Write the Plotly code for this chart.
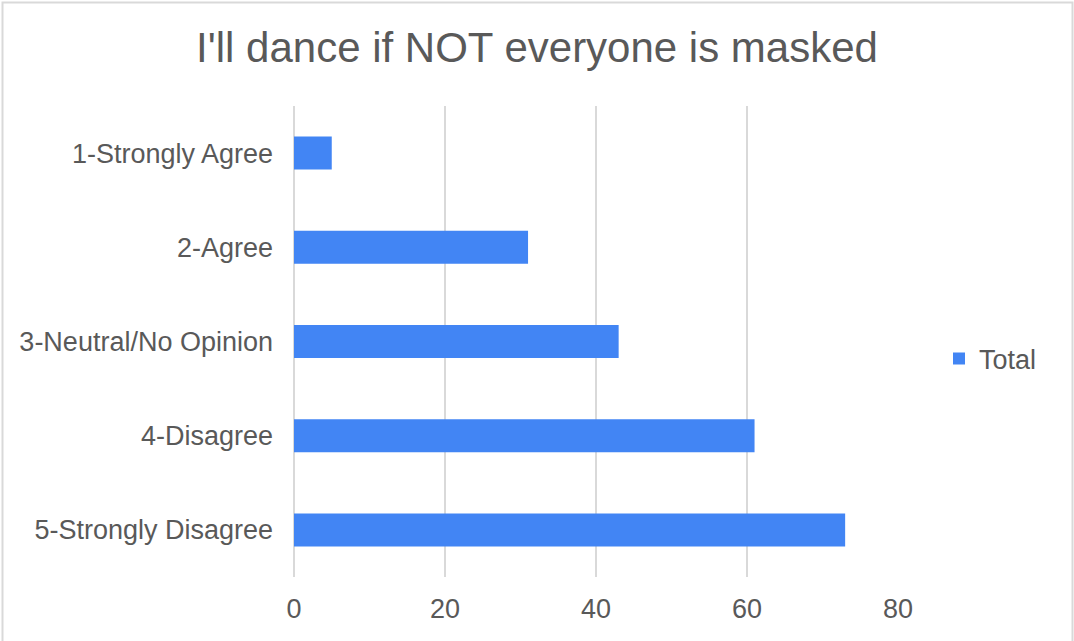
import plotly.graph_objects as go

categories = ["1-Strongly Agree", "2-Agree", "3-Neutral/No Opinion", "4-Disagree", "5-Strongly Disagree"]
totals = [5, 31, 43, 61, 73]
x_ticks = [0, 20, 40, 60, 80]
title_text = "I'll dance if NOT everyone is masked"
series_name = "Total"

FONT = "Liberation Sans, Arial, sans-serif"
TXT = "#595959"
GRID = "#d9d9d9"

fig = go.Figure()
fig.add_trace(go.Bar(
    y=categories, x=totals, orientation="h", name=series_name,
    marker=dict(color="#4285F4", line=dict(width=0)),
    showlegend=True,
))

W, H = 1074, 641
L, R, T, B = 294, 176, 106, 64
pw, ph = W - L - R, H - T - B

def px_x(p):
    return (p - L) / pw

def px_y(p):
    return (H - B - p) / ph

fig.update_layout(
    width=W, height=H,
    margin=dict(l=L, r=R, t=T, b=B, autoexpand=False),
    paper_bgcolor="white", plot_bgcolor="white",
    font=dict(family=FONT, color=TXT, size=27),
    title=dict(text=title_text, x=0.5, xanchor="center", y=1 - 47 / H, yanchor="middle",
               font=dict(size=42, color=TXT, family=FONT)),
    bargap=0.65,
    showlegend=True,
    legend=dict(x=px_x(939), xanchor="left", y=px_y(359), yanchor="middle",
                font=dict(size=27, color=TXT), bgcolor="rgba(0,0,0,0)"),
    xaxis=dict(range=[0, 80], tickvals=x_ticks, showgrid=True, gridcolor=GRID, gridwidth=2,
               zeroline=True, zerolinecolor=GRID, zerolinewidth=2, showline=False,
               ticks="", ticklabelstandoff=13, tickfont=dict(size=27, color=TXT)),
    yaxis=dict(autorange="reversed", showgrid=False, zeroline=False, showline=False,
               ticks="", ticklabelstandoff=20, tickfont=dict(size=27, color=TXT)),
    shapes=[dict(type="rect", xref="paper", yref="paper",
                 x0=px_x(2.5), x1=px_x(1072.5), y0=px_y(642), y1=px_y(2.5),
                 line=dict(color=GRID, width=2), fillcolor="rgba(0,0,0,0)", layer="below")],
)

fig.write_html("out.html", config={"displayModeBar": False},
               post_script="document.body.style.margin='0';document.body.style.overflow='hidden';")
